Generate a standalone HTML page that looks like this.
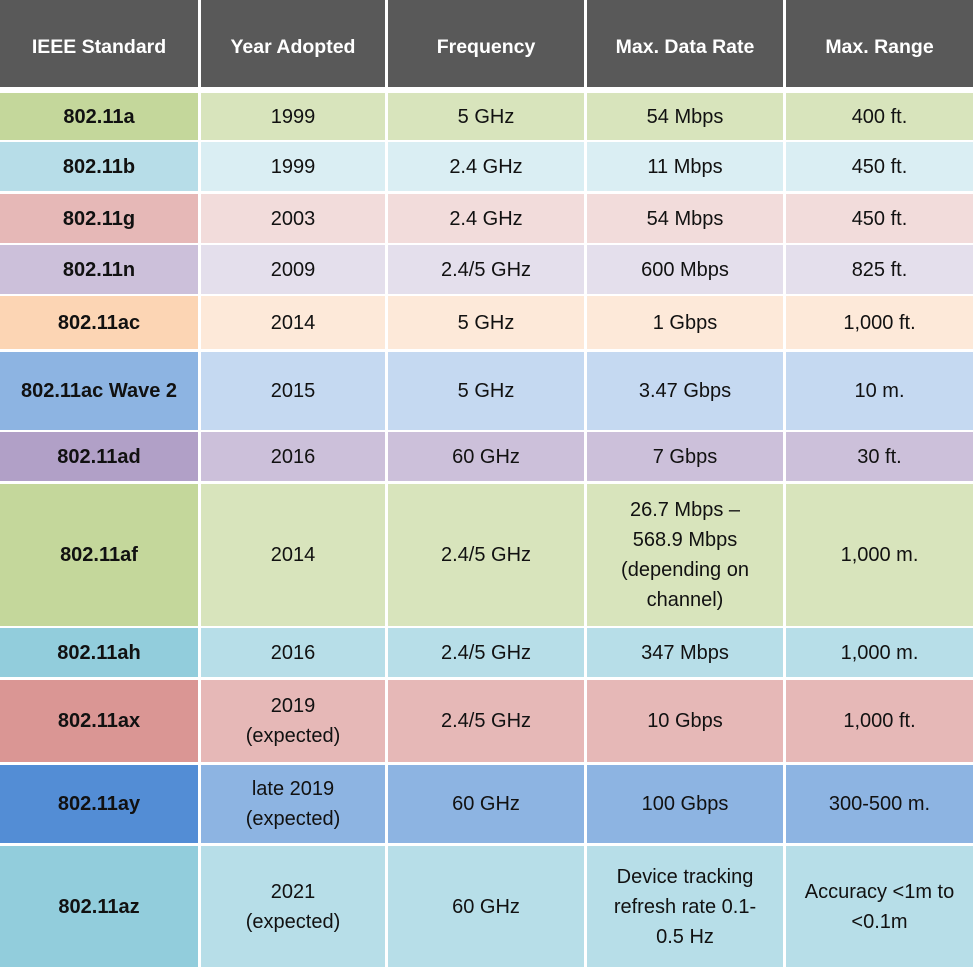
<!DOCTYPE html>
<html><head><meta charset="utf-8"><style>
body{margin:0;width:973px;height:970px;background:#fff;overflow:hidden;position:relative;font-family:"Liberation Sans",sans-serif}
.c{position:absolute;display:flex;align-items:center;justify-content:center;text-align:center;font-size:20px;color:#111;line-height:30px;box-sizing:border-box;padding:0 2px}
.h{background:#595959;color:#fff;font-weight:bold;font-size:19.5px;padding-top:7px}
.f{font-weight:bold}
</style></head><body>
<script>
const cols=[[0,198],[201,385],[388,584],[587,783],[786,973]];
const headers=["IEEE Standard","Year Adopted","Frequency","Max. Data Rate","Max. Range"];
const rows=[
[93,140,"#c4d79b","#d8e4bc",["802.11a","1999","5 GHz","54 Mbps","400 ft."]],
[142,191,"#b7dde8","#daeef3",["802.11b","1999","2.4 GHz","11 Mbps","450 ft."]],
[194,243,"#e6b8b7","#f2dcdb",["802.11g","2003","2.4 GHz","54 Mbps","450 ft."]],
[245,294,"#ccc0da","#e4dfec",["802.11n","2009","2.4/5 GHz","600 Mbps","825 ft."]],
[296,349,"#fcd5b4","#fde9d9",["802.11ac","2014","5 GHz","1 Gbps","1,000 ft."]],
[352,430,"#8db4e2","#c5d9f1",["802.11ac Wave 2","2015","5 GHz","3.47 Gbps","10 m."]],
[432,481,"#b1a0c7","#ccc0da",["802.11ad","2016","60 GHz","7 Gbps","30 ft."]],
[484,626,"#c4d79b","#d8e4bc",["802.11af","2014","2.4/5 GHz","26.7 Mbps –<br>568.9 Mbps<br>(depending on<br>channel)","1,000 m."]],
[628,677,"#92cddc","#b7dee8",["802.11ah","2016","2.4/5 GHz","347 Mbps","1,000 m."]],
[680,762,"#da9694","#e6b8b7",["802.11ax","2019<br>(expected)","2.4/5 GHz","10 Gbps","1,000 ft."]],
[765,843,"#538dd5","#8db4e2",["802.11ay","late 2019<br>(expected)","60 GHz","100 Gbps","300-500 m."]],
[846,967,"#92cddc","#b7dee8",["802.11az","2021<br>(expected)","60 GHz","Device tracking<br>refresh rate 0.1-<br>0.5 Hz","Accuracy &lt;1m to<br>&lt;0.1m"]]
];
let html="";
headers.forEach((h,i)=>{html+=`<div class="c h" style="left:${cols[i][0]}px;width:${cols[i][1]-cols[i][0]}px;top:0;height:87px">${h}</div>`;});
rows.forEach((r,ri)=>{r[4].forEach((t,i)=>{html+=`<div class="c${i==0?' f':''}" style="left:${cols[i][0]}px;width:${cols[i][1]-cols[i][0]}px;top:${r[0]}px;height:${r[1]-r[0]}px;background:${i==0?r[2]:r[3]}">${t}</div>`;});});
document.body.insertAdjacentHTML('beforeend',html);
</script>
</body></html>
